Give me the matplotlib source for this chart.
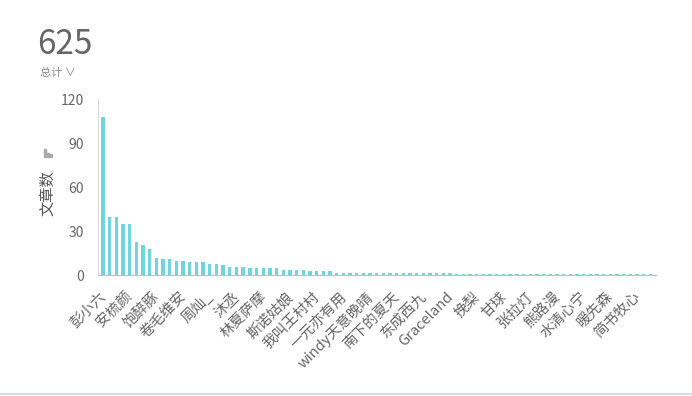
import numpy as np
import matplotlib.pyplot as plt
import matplotlib.transforms as mtransforms
from matplotlib.lines import Line2D
from matplotlib.patches import Rectangle

plt.rcParams['font.family'] = ['Noto Sans CJK SC', 'DejaVu Sans']

# article count per author, sorted descending (83 authors)
values = ([108, 40, 40, 35, 35, 23, 21, 18, 12, 11, 11, 10, 10, 9, 9, 9, 8, 8, 7,
           6, 6, 6, 5, 5, 5, 5, 5, 4, 4, 4, 4, 3, 3, 3, 3]
          + [2] * 18 + [1] * 30)
# only every 4th author name is shown on the axis
shown_labels = ["彭小六", "安梳颜", "饱醉豚", "卷毛维安", "周灿_", "沐丞", "林夏萨摩",
                "斯诺姑娘", "我叫王村村", "一元亦有用", "windy天意晚晴", "南下的夏天",
                "东成西九", "Graceland", "挽梨", "甘球", "张拉灯", "熊路漫",
                "水清心宁", "暖先森", "简书牧心"]
label_step = 4
total = 625

bar_color = "#6ED6DC"
text_grey = "#666666"

fig = plt.figure(figsize=(6.92, 3.96), dpi=100)
ax = fig.add_axes([0.1416, 0.3043, 0.948 - 0.1416, 0.7492 - 0.3043])

x = np.arange(len(values))
ax.bar(x, values, width=0.5, color=bar_color)

ax.set_xlim(-0.75, len(values) - 0.15)
ax.set_ylim(0, 120)
ax.set_yticks([0, 30, 60, 90, 120])
ax.tick_params(axis='y', length=0, pad=10, labelsize=10, labelcolor=text_grey)

tick_pos = x[::label_step][:len(shown_labels)]
ax.set_xticks(tick_pos)
ax.set_xticklabels(shown_labels, rotation=45, ha='right', rotation_mode='anchor')
ax.tick_params(axis='x', length=0, pad=10, labelsize=10.5, labelcolor=text_grey)
# nudge the slanted names a little to the left, like the original
shift = mtransforms.ScaledTranslation(-4 / 100, 0, fig.dpi_scale_trans)
for lbl in ax.get_xticklabels():
    lbl.set_transform(lbl.get_transform() + shift)

for side in ['top', 'right']:
    ax.spines[side].set_visible(False)
ax.spines['left'].set_color('#d9d9d9')
ax.spines['bottom'].set_color('#bfbfbf')

ax.set_ylabel("文章数", fontsize=11, color="#555555")
ax.yaxis.set_label_coords(-0.074, 0.47)

# headline total
fig.text(37 / 692, 1 - 45 / 396, str(total), fontsize=24, color=text_grey,
         ha='left', va='center')
fig.text(40 / 692, 1 - 73 / 396, "总计 ∨", fontsize=8, color="#888888",
         ha='left', va='center')

# small chart icon above the y label
for i, h in enumerate([8, 4, 3]):
    fig.add_artist(Rectangle(((44 + i * 3) / 692, 1 - 157 / 396), 2 / 692, h / 396,
                             color="#aaaaaa", transform=fig.transFigure))

# bottom rule
fig.add_artist(Line2D([0, 1], [1 - 394 / 396] * 2, color="#cfd3dc", lw=1.2,
                      transform=fig.transFigure))

plt.savefig("out.png", dpi=100)
